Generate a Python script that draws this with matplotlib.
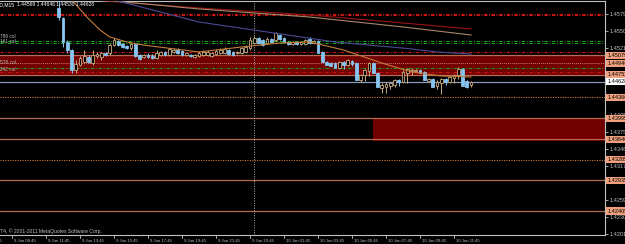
import matplotlib
matplotlib.use("Agg")
import matplotlib.pyplot as plt
import matplotlib.transforms as mtransforms

# EURUSD M15, 9-10 Jun 2011, bars counted from 9 Jun 09:45
first_bar = 11
opens = [1.45893, 1.45721, 1.45309, 1.45172, 1.44828, 1.44914, 1.44965, 1.45051, 1.44948, 1.45068,
         1.45051, 1.45120, 1.45120, 1.45257, 1.45326, 1.45275, 1.45240, 1.45206, 1.45275, 1.45086,
         1.45051, 1.45086, 1.45068, 1.45034, 1.45086, 1.45137, 1.45086, 1.45137, 1.45172, 1.45154,
         1.45086, 1.45086, 1.45051, 1.45068, 1.45086, 1.45086, 1.45068, 1.45103, 1.45120, 1.45120,
         1.45172, 1.45137, 1.45120, 1.45120, 1.45137, 1.45206, 1.45292, 1.45378, 1.45343, 1.45292,
         1.45360, 1.45343, 1.45429, 1.45378, 1.45309, 1.45275, 1.45309, 1.45275, 1.45275, 1.45360,
         1.45292, 1.45326, 1.45137, 1.44965, 1.44948, 1.44948, 1.44862, 1.44965, 1.44914, 1.44983,
         1.44948, 1.44656, 1.44742, 1.44811, 1.44948, 1.44776, 1.44519, 1.44536, 1.44553, 1.44570,
         1.44656, 1.44622, 1.44776, 1.44811, 1.44811, 1.44828, 1.44794, 1.44639, 1.44673, 1.44553,
         1.44605, 1.44673, 1.44622, 1.44690, 1.44742, 1.44845, 1.44639, 1.44569]
highs = [1.46050, 1.45738, 1.45343, 1.45189, 1.45000, 1.45068, 1.45172, 1.45086, 1.45172, 1.45137,
         1.45137, 1.45137, 1.45292, 1.45378, 1.45343, 1.45292, 1.45257, 1.45292, 1.45292, 1.45103,
         1.45103, 1.45120, 1.45103, 1.45172, 1.45154, 1.45154, 1.45206, 1.45206, 1.45206, 1.45172,
         1.45137, 1.45103, 1.45103, 1.45154, 1.45172, 1.45172, 1.45137, 1.45189, 1.45206, 1.45223,
         1.45189, 1.45154, 1.45154, 1.45223, 1.45257, 1.45395, 1.45412, 1.45395, 1.45360, 1.45395,
         1.45378, 1.45481, 1.45446, 1.45395, 1.45326, 1.45326, 1.45326, 1.45326, 1.45360, 1.45395,
         1.45343, 1.45343, 1.45154, 1.44983, 1.44965, 1.44965, 1.44983, 1.44983, 1.45017, 1.45000,
         1.44965, 1.44759, 1.44845, 1.44965, 1.44965, 1.44794, 1.44605, 1.44622, 1.44622, 1.44673,
         1.44673, 1.44828, 1.44862, 1.44862, 1.44845, 1.44845, 1.44811, 1.44690, 1.44690, 1.44656,
         1.44690, 1.44690, 1.44725, 1.44759, 1.44879, 1.44862, 1.44656, 1.44646]
lows = [1.45687, 1.45223, 1.45120, 1.44776, 1.44776, 1.44897, 1.44948, 1.44948, 1.44914, 1.45034,
        1.45000, 1.45068, 1.45086, 1.45240, 1.45240, 1.45206, 1.45189, 1.45172, 1.45051, 1.45000,
        1.45034, 1.45034, 1.45017, 1.45017, 1.45068, 1.45068, 1.45068, 1.45120, 1.45103, 1.45068,
        1.45068, 1.45051, 1.45034, 1.45051, 1.45068, 1.45068, 1.45051, 1.45086, 1.45103, 1.45103,
        1.45086, 1.45068, 1.45103, 1.45103, 1.45120, 1.45172, 1.45275, 1.45275, 1.45240, 1.45275,
        1.45292, 1.45309, 1.45343, 1.45292, 1.45257, 1.45257, 1.45257, 1.45257, 1.45257, 1.45275,
        1.45275, 1.45275, 1.45103, 1.44948, 1.44897, 1.44879, 1.44845, 1.44845, 1.44897, 1.44897,
        1.44914, 1.44622, 1.44639, 1.44725, 1.44794, 1.44759, 1.44433, 1.44433, 1.44502, 1.44536,
        1.44553, 1.44605, 1.44605, 1.44742, 1.44794, 1.44794, 1.44759, 1.44639, 1.44605, 1.44502,
        1.44416, 1.44570, 1.44605, 1.44605, 1.44673, 1.44725, 1.44519, 1.44530]
closes = [1.45738, 1.45309, 1.45172, 1.44828, 1.44931, 1.45034, 1.45068, 1.44965, 1.45086, 1.45103,
          1.45120, 1.45086, 1.45257, 1.45343, 1.45257, 1.45223, 1.45206, 1.45275, 1.45068, 1.45017,
          1.45086, 1.45051, 1.45034, 1.45120, 1.45137, 1.45086, 1.45189, 1.45172, 1.45120, 1.45086,
          1.45120, 1.45060, 1.45086, 1.45120, 1.45137, 1.45137, 1.45120, 1.45154, 1.45172, 1.45189,
          1.45103, 1.45086, 1.45137, 1.45206, 1.45223, 1.45343, 1.45378, 1.45292, 1.45257, 1.45360,
          1.45309, 1.45464, 1.45360, 1.45309, 1.45275, 1.45309, 1.45275, 1.45309, 1.45343, 1.45292,
          1.45326, 1.45120, 1.44965, 1.44914, 1.44897, 1.44862, 1.44965, 1.44914, 1.45000, 1.44931,
          1.44656, 1.44742, 1.44828, 1.44948, 1.44776, 1.44536, 1.44570, 1.44587, 1.44605, 1.44656,
          1.44622, 1.44794, 1.44845, 1.44828, 1.44828, 1.44776, 1.44656, 1.44673, 1.44536, 1.44622,
          1.44673, 1.44622, 1.44708, 1.44742, 1.44845, 1.44553, 1.44536, 1.44628]

# moving averages (read at a few bars)
ma_fast_bars = [11, 14.1, 17.6, 20.7, 23, 27, 30.8, 44, 54, 63, 70, 78, 87, 94, 101, 108]
ma_fast = [1.4620, 1.46031, 1.45738, 1.45515, 1.45395, 1.45309, 1.45257, 1.45137, 1.45223,
           1.45292, 1.45309, 1.45172, 1.44948, 1.44794, 1.44725, 1.44708]
ma_red_bars = [19, 44, 70, 92, 108]
ma_red = [1.46031, 1.45893, 1.45773, 1.45635, 1.45532]
ma_tan_bars = [17, 44, 70, 92, 108]
ma_tan = [1.46060, 1.45876, 1.45738, 1.45567, 1.45429]
ma_slate_bars = [24, 44, 60, 76, 93, 100, 108]
ma_slate = [1.46031, 1.45652, 1.45481, 1.45309, 1.45197, 1.45137, 1.45103]

red_dashdot = [1.45795, 1.45770, 1.45137, 1.44790]
green_dashdot = [1.45320, 1.45290, 1.44857]
pink_dotted = [1.44940]
orange_dotted = [1.44360, 1.43285]
salmon_solid = [1.45079, 1.44740, 1.43995, 1.43640, 1.42935, 1.42405]
band1 = (1.44722, 1.45079)
band2 = (1.43615, 1.43995)
band2_start = 84.9
bid = 1.44628
day_separator = 57

level_labels = [1.45079, 1.44940, 1.44752, 1.44360, 1.43995, 1.43640, 1.43285, 1.42935, 1.42405]
price_ticks = [1.45790, 1.45500, 1.45210, 1.44920, 1.44630, 1.44340, 1.44050, 1.43755,
               1.43465, 1.43175, 1.42880, 1.42590, 1.42300, 1.42010]
# tick labels that sit under a level label are hidden in the terminal
hidden_ticks = [1.44920, 1.44630, 1.44340, 1.42880]
time_ticks = list(range(-8, 105, 8))
time_labels = ["9 Jun 07:45", "9 Jun 09:45", "9 Jun 11:45", "9 Jun 13:45", "9 Jun 15:45",
               "9 Jun 17:45", "9 Jun 19:45", "9 Jun 21:45", "9 Jun 23:45", "10 Jun 01:45",
               "10 Jun 03:45", "10 Jun 05:45", "10 Jun 07:45", "10 Jun 09:45", "10 Jun 11:45"]
fib_names = ["786 col", "161 col", "578 col", "242 col"]
fib_prices = [1.45400, 1.45309, 1.44948, 1.44828]

FONT = ["Liberation Sans", "DejaVu Sans"]
BULL = "#c8aa80"
BEAR = "#87c4f0"
GRAY = "#c0c0c0"

fig = plt.figure(figsize=(6.25, 2.44), dpi=100, facecolor="black")
ax = fig.add_axes([0, 9 / 244, 605 / 625, 234 / 244], facecolor="black")
ax.set_xlim(-12 / 4.25, 593 / 4.25)
ax.set_ylim(1.41993, 1.46013)

# bands
ax.axhspan(band1[0], band1[1], color="#720000", zorder=1, lw=0)
ax.fill_between([band2_start, 200], band2[0], band2[1], color="#720000", zorder=1, lw=0)

# horizontal levels
for p in red_dashdot:
    ax.axhline(p, color="#d01414", lw=0.8, ls=(0, (3, 1.5, 0.8, 1.5)), zorder=2)
for p in green_dashdot:
    ax.axhline(p, color="#1ea01e", lw=0.8, ls=(0, (3, 1.5, 0.8, 1.5)), zorder=2)
for p in pink_dotted:
    ax.axhline(p, color="#e09090", lw=0.7, ls=(0, (0.8, 1.2)), zorder=2)
for p in orange_dotted:
    ax.axhline(p, color="#d07a3a", lw=0.8, ls=(0, (1, 1.2)), zorder=2)
for p in salmon_solid:
    ax.axhline(p, color="#b86a50", lw=0.9, zorder=2)
ax.axhline(bid, color="#8898b8", lw=0.9, zorder=2)
ax.axvline(day_separator, color="#b0b0b0", lw=0.7, ls=(0, (1, 1.5)), zorder=2)

# candles
for k in range(len(opens)):
    b = first_bar + k
    o, h, l, c = opens[k], highs[k], lows[k], closes[k]
    up = c >= o
    col = BULL if up else BEAR
    ax.vlines(b, l, h, color=col, lw=0.7, zorder=3)
    bottom = min(o, c)
    height = max(abs(c - o), 0.00004)
    ax.bar(b, height, bottom=bottom, width=0.62, color="black" if up else BEAR,
           edgecolor=col, lw=0.6, zorder=4)

# moving averages
ax.plot(ma_fast_bars, ma_fast, color="#c47a3a", lw=0.8, zorder=5)
ax.plot(ma_red_bars, ma_red, color="#9a1414", lw=0.8, zorder=5)
ax.plot(ma_tan_bars, ma_tan, color="#a8876a", lw=0.8, zorder=5)
ax.plot(ma_slate_bars, ma_slate, color="#4a4a98", lw=0.8, zorder=5)

# frame
ax.spines["left"].set_visible(False)
for side in ["top", "right", "bottom"]:
    ax.spines[side].set_color(GRAY)
    ax.spines[side].set_linewidth(0.8)

# price axis
ax.yaxis.tick_right()
ax.set_yticks(price_ticks)
ax.set_yticklabels(["" if p in hidden_ticks else f"{p:.5f}" for p in price_ticks],
                   fontsize=4.0, color=GRAY, family=FONT)
ax.tick_params(axis="y", length=2, width=0.6, color=GRAY, pad=1)
ax.set_xticks([])

ytrans = mtransforms.blended_transform_factory(ax.transAxes, ax.transData)
for p in level_labels:
    ax.text(1.004, p, f"{p:.5f}", transform=ytrans, fontsize=4.0, family=FONT, color="black",
            va="center", ha="left", clip_on=False, zorder=10,
            bbox=dict(boxstyle="square,pad=0.2", fc="#f0a07c", ec="none"))
ax.text(1.004, bid, f"{bid:.5f}", transform=ytrans, fontsize=4.0, family=FONT, color="black",
        va="center", ha="left", clip_on=False, zorder=10,
        bbox=dict(boxstyle="square,pad=0.2", fc="white", ec="none"))

# time axis
xtrans = mtransforms.blended_transform_factory(ax.transData, ax.transAxes)
for t, lab in zip(time_ticks, time_labels):
    ax.plot([t, t], [0, -0.012], transform=xtrans, color=GRAY, lw=0.6, clip_on=False)
    ax.text(t + 0.45, -0.018, lab, transform=xtrans, fontsize=3.1, family=FONT, color=GRAY,
            va="top", ha="left", clip_on=False)

# fibo labels on the left
for name, p in zip(fib_names, fib_prices):
    ax.text(-2.9, p, name, fontsize=3.4, family=FONT, color=GRAY, va="center", ha="left", zorder=6)

fig.text(15 / 625, 1 - 5 / 244, "EURUSD,M15", fontsize=3.6, family=FONT, color="white",
         va="center", ha="right")
fig.text(17 / 625, 1 - 5 / 244, "1.44569 1.44646 1.44530 1.44628", fontsize=3.6,
         family=FONT, color="white", va="center", ha="left")
fig.text(-4 / 625, 13 / 244, "MT4, \u00a9 2001-2011 MetaQuotes Software Corp.", fontsize=3.6,
         family=FONT, color=GRAY, va="center", ha="left")

fig.savefig("out.png", dpi=100, facecolor="black")
